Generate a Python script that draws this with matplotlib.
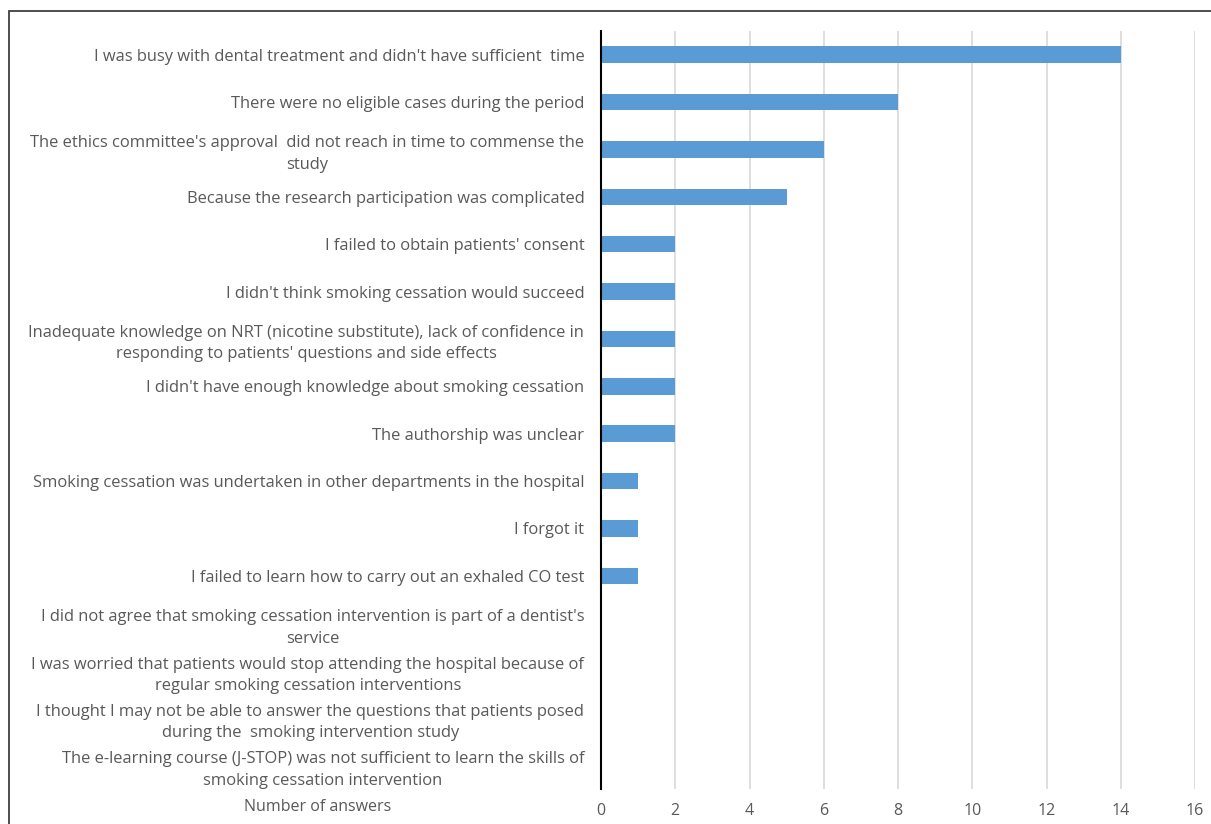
import matplotlib.pyplot as plt
from matplotlib.patches import Rectangle

plt.rcParams['font.family'] = ['Open Sans', 'DejaVu Sans']

reasons = [
    "I was busy with dental treatment and didn't have sufficient  time",
    "There were no eligible cases during the period",
    "The ethics committee's approval  did not reach in time to commense the\nstudy",
    "Because the research participation was complicated",
    "I failed to obtain patients' consent",
    "I didn't think smoking cessation would succeed",
    "Inadequate knowledge on NRT (nicotine substitute), lack of confidence in\nresponding to patients' questions and side effects",
    "I didn't have enough knowledge about smoking cessation",
    "The authorship was unclear",
    "Smoking cessation was undertaken in other departments in the hospital",
    "I forgot it",
    "I failed to learn how to carry out an exhaled CO test",
    "I did not agree that smoking cessation intervention is part of a dentist's\nservice",
    "I was worried that patients would stop attending the hospital because of\nregular smoking cessation interventions",
    "I thought I may not be able to answer the questions that patients posed\nduring the  smoking intervention study",
    "The e-learning course (J-STOP) was not sufficient to learn the skills of\nsmoking cessation intervention",
]
answers = [14, 8, 6, 5, 2, 2, 2, 2, 2, 1, 1, 1, 0, 0, 0, 0]
xticks = [0, 2, 4, 6, 8, 10, 12, 14, 16]

W, H = 1211, 824
fig = plt.figure(figsize=(W / 100, H / 100), dpi=100)
ax = fig.add_axes([601 / W, 1 - 789 / H, (1195 - 601) / W, (789 - 31) / H])

txt = '#595959'
fs = 11.9
ypos = list(range(len(reasons)))
ax.barh(ypos, answers, height=0.35, color='#5B9BD5', zorder=3)
ax.set_ylim(len(reasons) - 0.5, -0.5)
ax.set_xlim(0, 16)
ax.set_xticks(xticks)
ax.set_xticklabels([str(t) for t in xticks], color=txt, fontsize=fs - 0.4)
ax.set_yticks(ypos)
ax.set_yticklabels(reasons, color=txt, fontsize=fs, ha='right',
                   multialignment='center', linespacing=1.45)
ax.tick_params(axis='y', length=0, pad=12)
ax.tick_params(axis='x', length=0, pad=10)
ax.grid(axis='x', color='#D9D9D9', linewidth=1.2, zorder=0)
for s in ['top', 'right', 'bottom']:
    ax.spines[s].set_visible(False)
ax.spines['left'].set_color('black')
ax.spines['left'].set_linewidth(1.5)
ax.spines['left'].set_zorder(4)

fig.text(318 / W, 1 - 807 / H, 'Number of answers', color=txt, fontsize=fs - 0.4,
         ha='center', va='center')

fig.patches.append(Rectangle((9 / W, -0.1), 1.2, 1 - 11 / H + 0.1, transform=fig.transFigure,
                             fill=False, edgecolor='#404040', linewidth=1.3))

fig.savefig('out.png', dpi=100)
